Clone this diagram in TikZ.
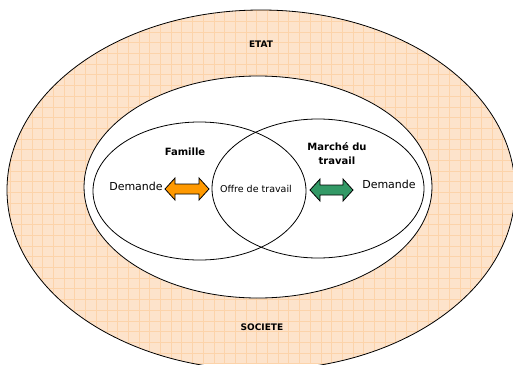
\documentclass[tikz,border=0pt]{standalone}
\usepackage{fontspec}
\setmainfont{DejaVu Sans}
\usetikzlibrary{calc}
\definecolor{peach}{HTML}{FDE3CB}
\definecolor{peachline}{HTML}{FCD3AA}
\definecolor{arrorange}{HTML}{FF9900}
\definecolor{arrgreen}{HTML}{339966}
\def\dblarrow[#1](#2)(#3){\draw[#1] (#2) -- ($(#2)+(10,-11)$) -- ($(#2)+(10,-5)$) -- ($(#3)+(-10,-5)$) -- ($(#3)+(-10,-11)$) -- (#3) -- ($(#3)+(-10,11)$) -- ($(#3)+(-10,5)$) -- ($(#2)+(10,5)$) -- ($(#2)+(10,11)$) -- cycle;}

\begin{document}
\begin{tikzpicture}[x=1pt,y=-1pt,line width=0.8pt,
    title/.style={font=\bfseries\fontsize{9}{11}\selectfont},
    head/.style={font=\bfseries\fontsize{10}{14}\selectfont, align=center},
    plain/.style={font=\fontsize{11}{13}\selectfont},
    small/.style={font=\fontsize{9.5}{11}\selectfont}]
		\useasboundingbox (0,0) rectangle (513,364);
		%%%%% ETAT / SOCIETE %%%%%
		\begin{scope}
			\clip (261,190) ellipse (254 and 180);
			\fill[peach] (0,0) rectangle (513,364);
			\draw[peachline, line width=1pt, step=10.7pt] (0,0) grid (513,364);
		\end{scope}
		\draw (261,190) ellipse (254 and 180);
		\draw[fill=white] (258,187) ellipse (174 and 111);
		
		\draw (199.5,191) ellipse (106.5 and 69);
		\draw (318,188.5) ellipse (106 and 69.5);
		
		\node[title] (etat) at (261,44) {ETAT};
		\node[title] (societe) at (262,327) {SOCIETE};
		\node[head] (famille) at (185,152) {Famille};
		\node[head] (marche) at (337,154) {Marché du\\travail};
		\node[plain] (demL) at (136,186) {Demande};
		\node[plain] (demR) at (389,184) {Demande};
		\node[small] (offre) at (256,189) {Offre de travail};
		
		\coordinate (oL) at (165,189);
		\coordinate (oR) at (209,189);
		\coordinate (gL) at (310,190);
		\coordinate (gR) at (353,190);
		\dblarrow[fill=arrorange](oL)(oR)
		\dblarrow[fill=arrgreen](gL)(gR)
		%%%%% END %%%%%
	\end{tikzpicture}
\end{document}
